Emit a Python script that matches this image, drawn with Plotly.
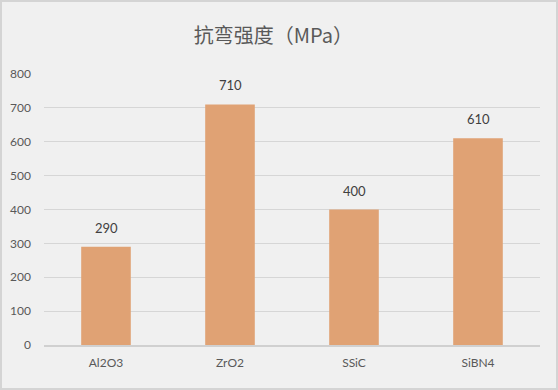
import plotly.graph_objects as go

categories = ["Al2O3", "ZrO2", "SSiC", "SiBN4"]
values = [290, 710, 400, 610]
tick_vals = [0, 100, 200, 300, 400, 500, 600, 700, 800]

fig = go.Figure(go.Bar(
    x=categories, y=values,
    marker=dict(color="#e0a274", line=dict(width=0)),
    cliponaxis=False,
))

for c, v in zip(categories, values):
    fig.add_annotation(x=c, y=v, text=str(v), showarrow=False, yanchor="bottom", yshift=9,
                       font=dict(family="Lato, 'Noto Sans', sans-serif", size=13, color="#404040"))

fig.update_layout(
    width=558, height=390,
    paper_bgcolor="#f0f0f0", plot_bgcolor="#f0f0f0",
    margin=dict(l=44, r=18, t=74, b=45, autoexpand=False),
    bargap=0.6,
    showlegend=False,
    title=dict(text="抗弯强度（MPa）", x=0.49, xanchor="center", y=0.908, yanchor="middle",
               font=dict(family="'Noto Sans CJK SC', sans-serif", size=20, color="#595959")),
    xaxis=dict(showgrid=False, showline=True, linecolor="#d0d0d0", linewidth=1.5, automargin=False,
               ticks="", ticklabelstandoff=6,
               tickfont=dict(family="Lato, 'Noto Sans', sans-serif", size=12, color="#595959")),
    yaxis=dict(range=[0, 800], tickvals=tick_vals, showgrid=True, gridcolor="#d6d6d6", gridwidth=1,
               zeroline=False, showline=False, ticks="", ticklabelstandoff=12, automargin=False,
               tickfont=dict(family="Lato, 'Noto Sans', sans-serif", size=12, color="#595959")),
    shapes=[dict(type="rect", xref="paper", yref="paper", x0=-44/496 + 1/496, x1=1+18/496 - 1/496,
                 y0=-45/271 + 1/271, y1=1+74/271 - 1/271, line=dict(color="#d4d4d4", width=2),
                 fillcolor="rgba(0,0,0,0)")],
)

fig.write_html("out.html", config={"displayModeBar": False},
               post_script="document.body.style.margin='0';document.body.style.overflow='hidden';")
